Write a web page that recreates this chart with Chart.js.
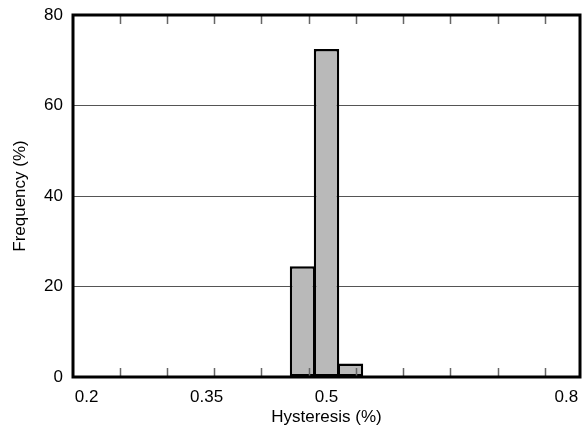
<!DOCTYPE html>
<html><head><meta charset="utf-8">
<script src="https://cdn.jsdelivr.net/npm/chart.js@4"></script>
<style>html,body{margin:0;padding:0;background:#fff}#wrap{width:584px;height:432px}</style>
</head><body><div id="wrap"><canvas id="c"></canvas></div>
<script>
const binCenters = [0.47, 0.50, 0.53];
const frequency = [24.5, 72.5, 3];
const xTickLabels = [0.2, 0.35, 0.5, 0.8];
const xMinorTicks = [0.2419, 0.3006, 0.3594, 0.4181, 0.4781, 0.5369, 0.5956, 0.6544, 0.7144, 0.7731];
const yTicks = [0, 20, 40, 60, 80];

const FONT = {family: '"Liberation Sans", Arial, Helvetica, sans-serif', size: 17};

const framePlugin = {
  id: 'frame',
  afterDatasetsDraw(chart) {
    const {ctx, chartArea: a, scales: {x}} = chart;
    ctx.save();
    ctx.strokeStyle = '#666';
    ctx.lineWidth = 1.5;
    xMinorTicks.forEach(v => {
      const px = Math.round(x.getPixelForValue(v)) + 0.5;
      ctx.beginPath();
      ctx.moveTo(px, a.top); ctx.lineTo(px, a.top + 9);
      ctx.moveTo(px, a.bottom); ctx.lineTo(px, a.bottom - 9);
      ctx.stroke();
    });
    ctx.strokeStyle = '#000';
    ctx.lineWidth = 3;
    ctx.strokeRect(a.left, a.top, a.right - a.left, a.bottom - a.top);
    ctx.restore();
  }
};

new Chart(document.getElementById('c'), {
  type: 'bar',
  data: {
    datasets: [{
      data: binCenters.map((c, i) => ({x: c, y: frequency[i]})),
      backgroundColor: '#b9b9b9',
      borderColor: '#000',
      borderWidth: 2.5,
      borderSkipped: false,
      barPercentage: 1.06,
      categoryPercentage: 1
    }]
  },
  options: {
    responsive: true,
    maintainAspectRatio: false,
    animation: false,
    layout: {padding: {left: 10, right: 4, top: 15, bottom: 0}},
    plugins: {legend: {display: false}, tooltip: {enabled: false}},
    scales: {
      x: {
        type: 'linear',
        offset: false,
        min: 0.183, max: 0.817,
        afterBuildTicks: s => { s.ticks = xTickLabels.map(v => ({value: v})); },
        afterFit: s => { s.height = 55; s.paddingLeft = 0; s.paddingRight = 0; },
        grid: {display: false},
        border: {display: false},
        ticks: {color: '#000', font: FONT, padding: 2, maxRotation: 0, autoSkip: false,
                callback: v => String(v)},
        title: {display: true, text: 'Hysteresis (%)', color: '#000', font: FONT, padding: {top: 0, bottom: 4}}
      },
      y: {
        min: 0, max: 80,
        afterBuildTicks: s => { s.ticks = yTicks.map(v => ({value: v})); },
        afterFit: s => { s.width = 63; s.paddingTop = 0; s.paddingBottom = 0; },
        grid: {drawTicks: false, color: ctx => (ctx.tick && (ctx.tick.value === 0 || ctx.tick.value === 80)) ? 'rgba(0,0,0,0)' : '#555', lineWidth: 1},
        border: {display: false},
        ticks: {color: '#000', font: FONT, padding: 10},
        title: {display: true, text: 'Frequency (%)', color: '#000', font: FONT, padding: {top: 0, bottom: 4}}
      }
    }
  },
  plugins: [framePlugin]
});
</script>
</body></html>
